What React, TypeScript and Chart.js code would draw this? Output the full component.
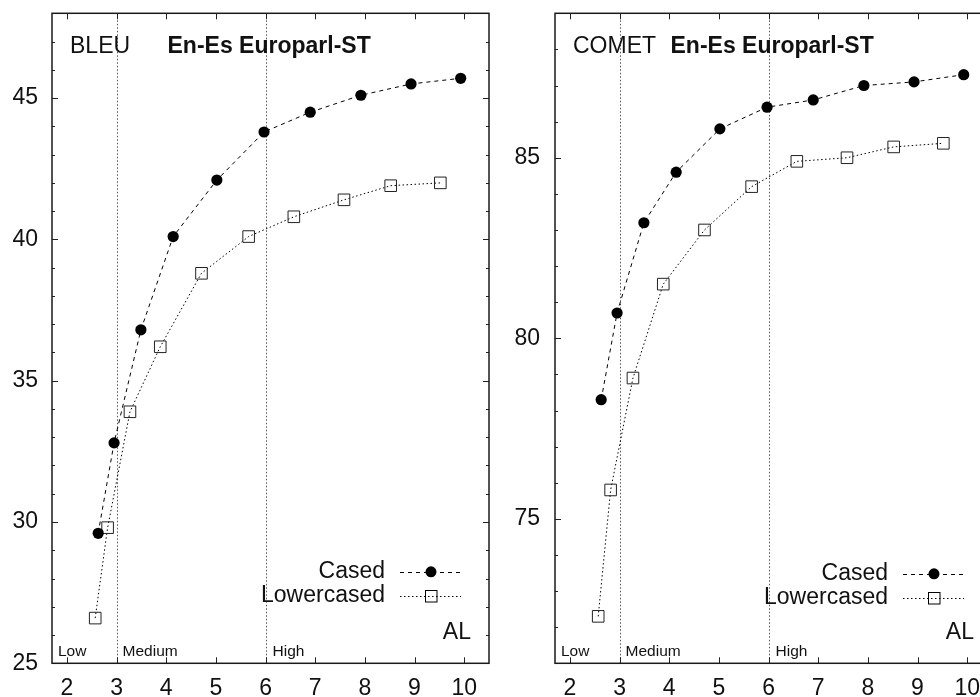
import React, { useEffect, useRef } from 'react';
import { Chart, registerables } from 'chart.js';
Chart.register(...registerables);

// ---- data ----
const xCased = [2.63, 2.95, 3.49, 4.14, 5.02, 5.97, 6.9, 7.92, 8.93, 9.93];
const xLower = [2.57, 2.82, 3.27, 3.88, 4.71, 5.66, 6.57, 7.58, 8.52, 9.52];
const bleuCased = [29.6, 32.8, 36.8, 40.1, 42.1, 43.8, 44.5, 45.1, 45.5, 45.7];
const bleuLower = [26.6, 29.8, 33.9, 36.2, 38.8, 40.1, 40.8, 41.4, 41.9, 42.0];
const cometCased = [78.3, 80.7, 83.2, 84.6, 85.8, 86.4, 86.6, 87.0, 87.1, 87.3];
const cometLower = [72.3, 75.8, 78.9, 81.5, 83.0, 84.2, 84.9, 85.0, 85.3, 85.4];
const xTicks = [2, 3, 4, 5, 6, 7, 8, 9, 10];
const bleuTicks = [25, 30, 35, 40, 45];
const cometTicks = [75, 80, 85];
const levelBounds = [3, 6];
const levelLabels = ['Low', 'Medium', 'High'];
const seriesNames = ['Cased', 'Lowercased'];
const datasetTitle = 'En-Es Europarl-ST';
const xLabel = 'AL';

const FONT = '"Liberation Sans", Arial, Helvetica, sans-serif';
const INK = '#111';

const framePlugin: any = {
  id: 'frame',
  beforeDatasetsDraw(chart: any) {
    const { ctx, chartArea: a, scales } = chart;
    const xs = scales.x;
    ctx.save();
    ctx.strokeStyle = '#555';
    ctx.lineWidth = 1;
    ctx.setLineDash([1.5, 2]);
    for (const b of levelBounds) {
      const px = Math.round(xs.getPixelForValue(b)) + 0.5;
      ctx.beginPath();
      ctx.moveTo(px, a.top);
      ctx.lineTo(px, a.bottom);
      ctx.stroke();
    }
    ctx.setLineDash([]);
    ctx.font = `15.5px ${FONT}`;
    ctx.fillStyle = INK;
    ctx.textBaseline = 'middle';
    ctx.textAlign = 'left';
    const ly = a.bottom - 12;
    ctx.fillText(levelLabels[0], a.left + 6, ly);
    ctx.fillText(levelLabels[1], xs.getPixelForValue(levelBounds[0]) + 6, ly);
    ctx.fillText(levelLabels[2], xs.getPixelForValue(levelBounds[1]) + 7, ly);
    ctx.restore();
  },
  afterDatasetsDraw(chart: any) {
    const o = chart.options.plugins.frame;
    const { ctx, chartArea: a, scales } = chart;
    const xs = scales.x;
    const ys = scales.y;
    ctx.save();
    ctx.strokeStyle = '#222';
    ctx.lineWidth = 1;
    for (const t of xTicks) {
      const px = Math.round(xs.getPixelForValue(t)) + 0.5;
      ctx.beginPath();
      ctx.moveTo(px, a.bottom);
      ctx.lineTo(px, a.bottom - 6);
      ctx.moveTo(px, a.top);
      ctx.lineTo(px, a.top + 6);
      ctx.stroke();
    }
    for (let v = Math.ceil(ys.min); v <= Math.floor(ys.max); v += 1) {
      const major = o.majors.includes(v);
      const len = major ? 6 : 3;
      const py = Math.round(ys.getPixelForValue(v)) + 0.5;
      ctx.beginPath();
      ctx.moveTo(a.left, py);
      ctx.lineTo(a.left + len, py);
      ctx.moveTo(a.right, py);
      ctx.lineTo(a.right - len, py);
      ctx.stroke();
    }
    ctx.lineWidth = 1.5;
    ctx.strokeStyle = '#1a1a1a';
    ctx.strokeRect(a.left, a.top, a.right - a.left, a.bottom - a.top);

    ctx.fillStyle = INK;
    ctx.textBaseline = 'middle';
    ctx.textAlign = 'left';
    ctx.font = `23px ${FONT}`;
    ctx.fillText(o.metric, a.left + 18, a.top + 33);
    ctx.font = `bold 23px ${FONT}`;
    ctx.fillText(datasetTitle, a.left + 115.5, a.top + 33);

    ctx.font = `23px ${FONT}`;
    ctx.textAlign = 'right';
    const ly0 = a.bottom - o.legendOffset;
    const entries = [
      { name: seriesNames[0], dash: [4, 4], kind: 'circle' },
      { name: seriesNames[1], dash: [1.5, 2.5], kind: 'rect' },
    ];
    entries.forEach((e, i) => {
      const y = ly0 + i * 24;
      ctx.fillStyle = INK;
      ctx.fillText(e.name, a.right - 104, y);
      ctx.strokeStyle = '#000';
      ctx.lineWidth = 1;
      ctx.setLineDash(e.dash);
      ctx.beginPath();
      ctx.moveTo(a.right - 89, Math.round(y) + 0.5);
      ctx.lineTo(a.right - 28, Math.round(y) + 0.5);
      ctx.stroke();
      ctx.setLineDash([]);
      const mx = a.right - 58;
      if (e.kind === 'circle') {
        ctx.fillStyle = '#000';
        ctx.beginPath();
        ctx.arc(mx, y, 5.5, 0, Math.PI * 2);
        ctx.fill();
      } else {
        ctx.strokeStyle = '#000';
        ctx.strokeRect(Math.round(mx - 5.75) + 0.5, Math.round(y - 5.75) + 0.5, 11.5, 11.5);
      }
    });
    ctx.fillStyle = INK;
    ctx.fillText(xLabel, a.right - 18, a.bottom - 31);
    ctx.restore();
  },
};

function zeroPad(s: any) {
  s.paddingTop = 0;
  s.paddingBottom = 0;
  s.paddingLeft = 0;
  s.paddingRight = 0;
}

function makeConfig(
  cased: number[],
  lower: number[],
  yMin: number,
  yMax: number,
  majors: number[],
  metric: string,
  yWidth: number,
  yPad: number,
  rightPad: number,
  legendOffset: number
): any {
  return {
    type: 'line',
    data: {
      datasets: [
        {
          label: seriesNames[0],
          data: xCased.map((x, i) => ({ x, y: cased[i] })),
          borderColor: '#000',
          borderWidth: 1,
          borderDash: [4, 4],
          pointStyle: 'circle',
          pointRadius: 5.6,
          pointBackgroundColor: '#000',
          pointBorderColor: '#000',
          pointBorderWidth: 0,
          fill: false,
          tension: 0,
        },
        {
          label: seriesNames[1],
          data: xLower.map((x, i) => ({ x, y: lower[i] })),
          borderColor: '#000',
          borderWidth: 1,
          borderDash: [1.5, 2.5],
          pointStyle: 'rect',
          pointRadius: 8.2,
          pointBackgroundColor: 'rgba(0,0,0,0)',
          pointBorderColor: '#222',
          pointBorderWidth: 1,
          fill: false,
          tension: 0,
        },
      ],
    },
    options: {
      animation: false,
      responsive: false,
      events: [],
      layout: { autoPadding: false, padding: { left: 0, right: rightPad, top: 13.3, bottom: 0 } },
      plugins: {
        legend: { display: false },
        tooltip: { enabled: false },
        frame: { majors, metric, legendOffset },
      },
      scales: {
        x: {
          type: 'linear',
          min: 1.7,
          max: 10.5,
          grid: { display: false, drawTicks: false },
          border: { display: false },
          afterBuildTicks: (s: any) => {
            s.ticks = xTicks.map((v) => ({ value: v }));
          },
          afterFit: (s: any) => {
            s.height = 33.7;
            zeroPad(s);
          },
          ticks: {
            padding: 12,
            color: INK,
            font: { family: FONT, size: 23 },
            maxRotation: 0,
            autoSkip: false,
          },
        },
        y: {
          type: 'linear',
          min: yMin,
          max: yMax,
          grid: { display: false, drawTicks: false },
          border: { display: false },
          afterBuildTicks: (s: any) => {
            s.ticks = majors.map((v) => ({ value: v }));
          },
          afterFit: (s: any) => {
            s.width = yWidth;
            zeroPad(s);
          },
          ticks: {
            padding: yPad,
            color: INK,
            font: { family: FONT, size: 23 },
            autoSkip: false,
          },
        },
      },
    },
    plugins: [framePlugin],
  };
}

export default function App() {
  const leftRef = useRef<HTMLCanvasElement>(null);
  const rightRef = useRef<HTMLCanvasElement>(null);

  useEffect(() => {
    document.body.style.margin = '0';
    document.body.style.background = '#fff';
    document.documentElement.style.overflow = 'hidden';
    const c1 = new Chart(
      leftRef.current!,
      makeConfig(bleuCased, bleuLower, 25, 48, bleuTicks, 'BLEU', 52, 14, 1, 91.5)
    );
    const c2 = new Chart(
      rightRef.current!,
      makeConfig(cometCased, cometLower, 71, 89, cometTicks, 'COMET', 65, 15, 3, 89.5)
    );
    return () => {
      c1.destroy();
      c2.destroy();
    };
  }, []);

  return (
    <div
      style={{
        position: 'relative',
        width: 980,
        height: 697,
        overflow: 'hidden',
        background: '#fff',
      }}
    >
      <canvas
        ref={leftRef}
        width={490}
        height={697}
        style={{ position: 'absolute', left: 0, top: 0, width: 490, height: 697 }}
      />
      <canvas
        ref={rightRef}
        width={505}
        height={697}
        style={{ position: 'absolute', left: 490, top: 0, width: 505, height: 697 }}
      />
    </div>
  );
}
